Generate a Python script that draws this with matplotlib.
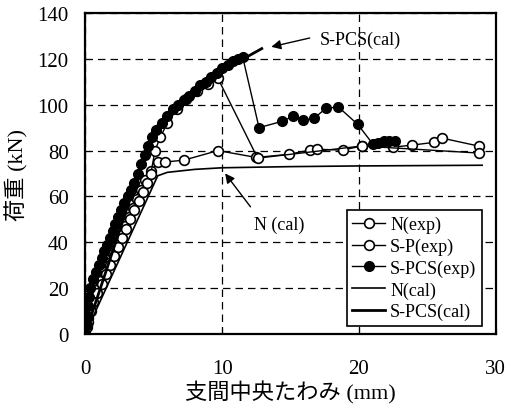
import matplotlib
matplotlib.use("Agg")
import matplotlib.pyplot as plt

plt.rcParams['font.family'] = ['Liberation Serif', 'Noto Sans CJK JP']

# N(exp)
n_x = [0, 0.1, 0.2, 0.3, 0.5, 0.8, 1.1, 1.4, 1.7, 2.0, 2.3, 2.6, 2.9, 3.2, 3.5, 3.8, 4.1, 4.4, 4.8,
       5.3, 5.8, 7.2, 9.7, 12.5, 14.9, 16.4, 16.9, 18.8, 20.2, 22.5, 23.9, 25.5, 26.1, 28.8]
n_y = [0, 3, 7, 11, 15, 19, 23, 27, 31, 35, 39, 43, 47, 51, 55, 59, 63, 67, 71,
       75, 75, 75.8, 80, 77, 78.4, 80.2, 80.6, 80.2, 82, 81.5, 82.4, 83.6, 85.4, 81.9]

# S-P(exp)
sp_x = [0, 0.2, 0.4, 0.6, 0.9, 1.2, 1.5, 1.8, 2.1, 2.4, 2.7, 3.0, 3.3, 3.6, 3.9, 4.2, 4.5, 4.8,
        5.1, 5.5, 6.0, 6.7, 7.4, 8.2, 9.0, 9.7, 12.6, 20.2, 28.8]
sp_y = [0, 5, 10, 14, 18, 22, 26, 30, 34, 38, 42, 46, 50, 54, 58, 62, 66, 70,
        80, 86, 92, 98, 102.4, 106, 109, 111.5, 76.7, 82, 78.9]

# S-PCS(exp)
spcs_x = [0, 0.1, 0.15, 0.2, 0.25, 0.35, 0.6, 0.8, 1.0, 1.2, 1.4, 1.6, 1.8, 2.0, 2.2, 2.4, 2.6,
          2.85, 3.1, 3.35, 3.6, 3.85, 4.1, 4.35, 4.6, 4.9, 5.2, 5.6, 6.0, 6.4, 6.8, 7.2, 7.6,
          8.0, 8.4, 8.8, 9.2, 9.6, 10.0, 10.4, 10.8, 11.2, 11.5,
          12.7, 14.4, 15.2, 15.9, 16.7, 17.6, 18.5, 19.9, 21.0, 21.4, 21.8, 22.2, 22.6]
spcs_y = [0, 4, 8, 12, 16, 20, 24, 27, 30, 33, 36, 39, 42, 45, 48, 51, 54,
          57, 60, 63, 66, 70, 74, 78, 82, 86, 89, 92, 95, 98, 100, 102, 104,
          106, 108.5, 110, 112, 114, 116, 117.5, 119, 120, 121,
          90, 92.8, 95, 93.2, 94, 98.5, 99, 91.5, 83, 83.5, 84, 84, 84]

# N(cal)
ncal_x = [0, 5.3, 6, 8, 10, 15, 20, 29]
ncal_y = [0, 69, 70.5, 71.8, 72.5, 73, 73.3, 73.6]

# S-PCS(cal)
scal_x = [0, 4.9, 6, 7, 8, 9, 10, 11, 12, 12.9]
scal_y = [0, 88, 96, 101.5, 106, 110.5, 114.5, 118.5, 121.5, 124.5]

fig = plt.figure(figsize=(5.07, 4.14), dpi=100)
ax = fig.add_axes([0.168, 0.191, 0.81, 0.775])

ax.plot(n_x, n_y, '-o', color='k', mfc='white', mec='k', ms=7, lw=1, mew=1.2, label='N(exp)')
ax.plot(sp_x, sp_y, '-o', color='k', mfc='white', mec='k', ms=7, lw=1, mew=1.2, label='S-P(exp)')
ax.plot(spcs_x, spcs_y, '-o', color='k', mfc='k', mec='k', ms=7, lw=1, label='S-PCS(exp)')
ax.plot(ncal_x, ncal_y, '-', color='k', lw=1.2, label='N(cal)')
ax.plot(scal_x, scal_y, '-', color='k', lw=2, label='S-PCS(cal)')

ax.set_xlim(0, 30)
ax.set_ylim(0, 140)
ax.set_xticks([0, 10, 20, 30])
ax.set_yticks(range(0, 141, 20))
ax.grid(True, color='k', linestyle=(0, (6, 4)), linewidth=0.9)
ax.tick_params(direction='in', length=4, labelsize=15)
ax.tick_params(axis='x', pad=18)
ax.tick_params(axis='y', pad=12)
for s in ax.spines.values():
    s.set_linewidth(1.6)

ax.set_xlabel('支間中央たわみ (mm)', fontsize=16, labelpad=2)
ax.set_ylabel('荷重 (kN)', fontsize=16, labelpad=6)

ax.text(20.1, 128.5, 'S-PCS(cal)', fontsize=13, ha='center', va='center')
ax.annotate('', xy=(13.4, 125), xytext=(16.6, 129.4),
            arrowprops=dict(arrowstyle='-|>', color='k', lw=1, mutation_scale=14))
ax.text(14.2, 48, 'N (cal)', fontsize=13, ha='center', va='center')
ax.annotate('', xy=(10.1, 71), xytext=(12.2, 54.5),
            arrowprops=dict(arrowstyle='-|>', color='k', lw=1, mutation_scale=14))

leg = ax.legend(loc='lower right', bbox_to_anchor=(0.966, 0.025), fontsize=13,
                frameon=True, fancybox=False, edgecolor='k', framealpha=1,
                handlelength=1.8, labelspacing=0.25, borderpad=0.3, handletextpad=0.3,
                borderaxespad=0)
leg.get_frame().set_linewidth(1.2)

fig.savefig('out.png', dpi=100)
